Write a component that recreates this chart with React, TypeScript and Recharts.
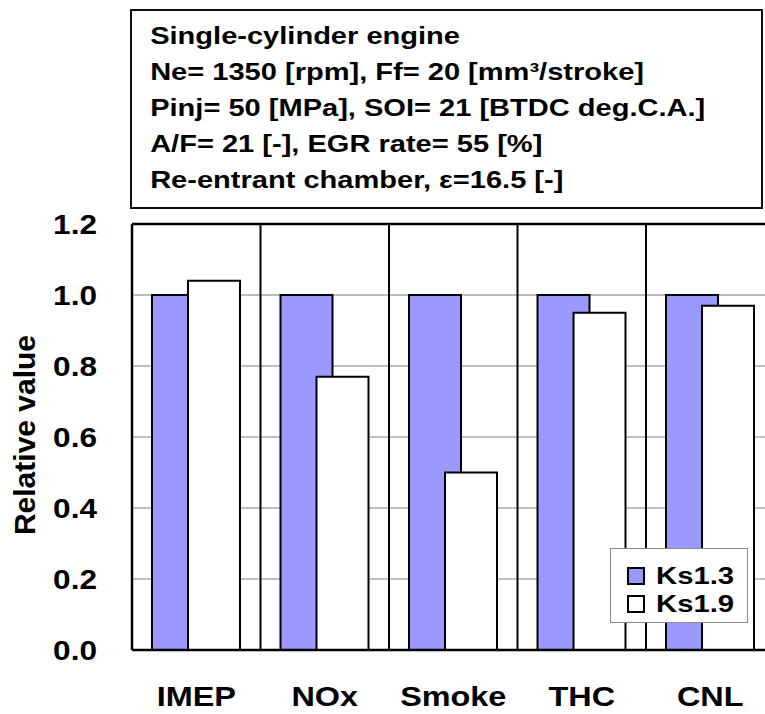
import {
  BarChart,
  Bar,
  XAxis,
  YAxis,
  CartesianGrid,
  ReferenceLine,
  Legend,
  Label,
} from "recharts";

// Relative emissions / performance, Ks1.9 normalised to Ks1.3
const categories = ["IMEP", "NOx", "Smoke", "THC", "CNL"];
const ks13 = [1.0, 1.0, 1.0, 1.0, 1.0];
const ks19 = [1.04, 0.77, 0.5, 0.95, 0.97];
const yTicks = [0, 0.2, 0.4, 0.6, 0.8, 1.0, 1.2];

const conditions = [
  "Single-cylinder engine",
  "Ne= 1350 [rpm], Ff= 20 [mm³/stroke]",
  "Pinj= 50 [MPa], SOI= 21 [BTDC deg.C.A.]",
  "A/F= 21 [-], EGR rate= 55 [%]",
  "Re-entrant chamber, ε=16.5 [-]",
];

const series = [
  { key: "ks13", name: "Ks1.3", fill: "#9999ff" },
  { key: "ks19", name: "Ks1.9", fill: "#ffffff" },
];

const data = categories.map((name, i) => ({
  name,
  ks13: ks13[i],
  ks19: ks19[i],
}));

const FONT = '"Liberation Sans", Arial, sans-serif';
// the figure's lettering is drawn wide
const STRETCH = 1.2;

const W = 778;
const H = 714;

function YTick({ x, y, payload }: any) {
  return (
    <text
      x={0}
      y={0}
      transform={`translate(${x},${y}) scale(1.17,1)`}
      textAnchor="end"
      dy="0.355em"
      fontSize={27}
      fontWeight="bold"
      fontFamily={FONT}
      fill="#000"
    >
      {Number(payload.value).toFixed(1)}
    </text>
  );
}

function XTick({ x, y, payload }: any) {
  return (
    <text
      x={0}
      y={0}
      transform={`translate(${x},${y}) scale(${STRETCH},1)`}
      textAnchor="middle"
      dy="0.71em"
      fontSize={27}
      fontWeight="bold"
      fontFamily={FONT}
      fill="#000"
    >
      {payload.value}
    </text>
  );
}

function YLabel({ viewBox }: any) {
  const x = viewBox.x + 35;
  const y = viewBox.y + viewBox.height / 2 - 2;
  return (
    <text
      transform={`translate(${x},${y}) rotate(-90)`}
      textAnchor="middle"
      fontSize={30}
      fontWeight="bold"
      fontFamily={FONT}
      fill="#000"
    >
      Relative value
    </text>
  );
}

function LegendBox() {
  return (
    <div
      style={{
        width: 138,
        height: 75,
        boxSizing: "border-box",
        border: "1.5px solid #8a8a8a",
        background: "#fff",
        padding: "13px 0 0 16px",
      }}
    >
      {series.map((s) => (
        <div
          key={s.key}
          style={{ display: "flex", alignItems: "center", height: 28 }}
        >
          <div
            style={{
              width: 18,
              height: 18,
              boxSizing: "border-box",
              border: "2px solid #000",
              background: s.fill,
            }}
          />
          <span
            style={{
              marginLeft: 11,
              fontFamily: FONT,
              fontWeight: "bold",
              fontSize: 24,
              lineHeight: "28px",
              display: "inline-block",
              transform: "scaleX(1.22)",
              transformOrigin: "0 50%",
            }}
          >
            {s.name}
          </span>
        </div>
      ))}
    </div>
  );
}

// vertical dividers sit on the category boundaries, not the centres
const dividers = ({ offset }: any) =>
  categories.map((_, i) => offset.left + ((i + 1) * offset.width) / categories.length);

export default function App() {
  return (
    <div
      style={{
        position: "absolute",
        left: 0,
        top: 0,
        width: 765,
        height: 714,
        overflow: "hidden",
        background: "#fff",
      }}
    >
      <BarChart
        width={W}
        height={H}
        data={data}
        margin={{ top: 224, right: 3.5, bottom: 0, left: 0 }}
        barSize={52}
        barGap={-16}
      >
        <CartesianGrid horizontal vertical={false} stroke="#7f7f7f" strokeWidth={1} />
        <CartesianGrid
          horizontal={false}
          vertical
          stroke="#000"
          strokeWidth={2}
          verticalCoordinatesGenerator={dividers}
        />
        <XAxis
          dataKey="name"
          height={64}
          tickLine={false}
          tickSize={0}
          tickMargin={37}
          tick={<XTick />}
          axisLine={{ stroke: "#000", strokeWidth: 2.5 }}
        />
        <YAxis
          width={132}
          domain={[0, 1.2]}
          ticks={yTicks}
          tickLine={false}
          tickSize={0}
          tickMargin={35}
          tick={<YTick />}
          axisLine={{ stroke: "#000", strokeWidth: 2.5 }}
        >
          <Label content={<YLabel />} />
        </YAxis>
        <ReferenceLine y={1.2} stroke="#000" strokeWidth={2.5} />
        {series.map((s) => (
          <Bar
            key={s.key}
            dataKey={s.key}
            name={s.name}
            fill={s.fill}
            stroke="#000"
            strokeWidth={2}
            isAnimationActive={false}
          />
        ))}
        <Legend
          layout="vertical"
          align="center"
          verticalAlign="middle"
          wrapperStyle={{ left: 610, top: 548, width: 138, height: 75 }}
          content={<LegendBox />}
        />
      </BarChart>

      <div
        style={{
          position: "absolute",
          left: 130,
          top: 9,
          width: 633,
          height: 200,
          boxSizing: "border-box",
          border: "2px solid #111",
          background: "#fff",
        }}
      >
        <div
          style={{
            paddingTop: 7,
            paddingLeft: 15,
            fontFamily: FONT,
            fontWeight: "bold",
            fontSize: 24,
            lineHeight: "36px",
            whiteSpace: "nowrap",
            color: "#000",
            transform: "scaleX(1.21)",
            transformOrigin: "0 0",
          }}
        >
          {conditions.map((line) => (
            <div key={line}>{line}</div>
          ))}
        </div>
      </div>
    </div>
  );
}
